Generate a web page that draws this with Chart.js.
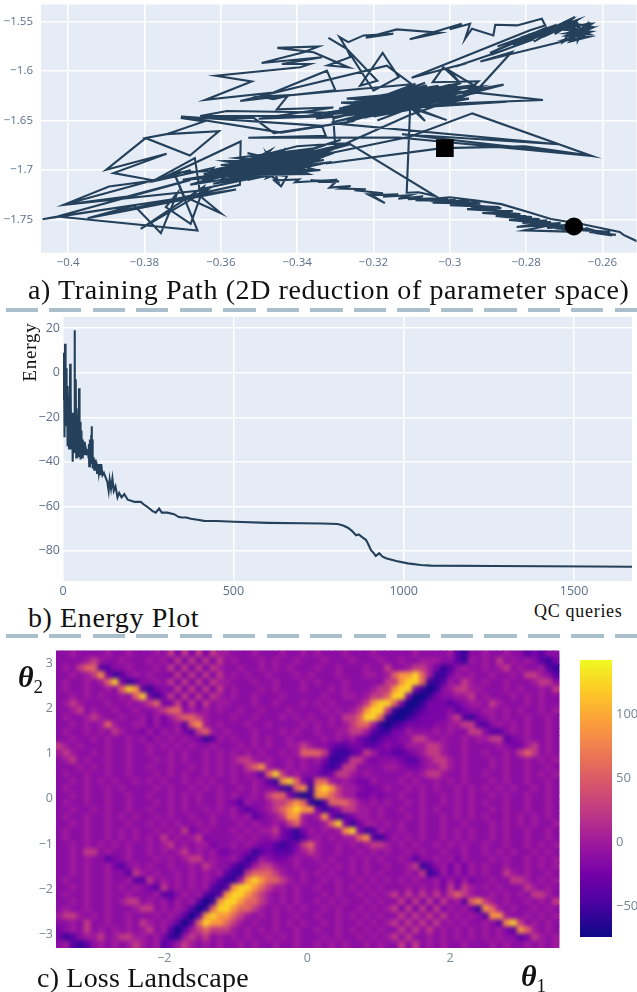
<!DOCTYPE html>
<html>
<head>
<meta charset="utf-8">
<script src="https://cdn.jsdelivr.net/npm/chart.js@4/dist/chart.umd.min.js"></script>
<style>
html, body { margin: 0; padding: 0; background: #fff; overflow: hidden; width: 637px; height: 992px; }
canvas { position: absolute; }
.cap { position: absolute; font-family: "Liberation Serif", serif; color: #111; white-space: nowrap; line-height: 1; }
.dash { position: absolute; left: 6px; width: 631px; height: 4px; background: repeating-linear-gradient(90deg, #a9bfcc 0 32px, transparent 32px 43.5px); }
.theta { font-size: 30px; }
.theta sub { font-size: 19px; font-style: normal; font-weight: normal; vertical-align: -6px; line-height: 0; }
</style>
</head>
<body>
<canvas id="pathChart" style="left:0;top:-8px"></canvas>
<canvas id="energyChart" style="left:0;top:310px"></canvas>
<canvas id="lossChart" style="left:0;top:645px"></canvas>
<canvas id="barChart" style="left:580px;top:650px"></canvas>

<div class="cap" style="left:28px;top:276px;font-size:28px;letter-spacing:.6px">a) Training Path (2D reduction of parameter space)</div>
<div class="dash" style="top:308px"></div>
<div class="cap" style="left:28px;top:604px;font-size:28px;letter-spacing:.6px">b) Energy Plot</div>
<div class="cap" style="left:534px;top:602px;font-size:18px;letter-spacing:.7px">QC queries</div>
<div class="dash" style="top:634px"></div>
<div class="cap" style="left:37px;top:964px;font-size:28px;letter-spacing:.2px">c) Loss Landscape</div>
<div class="cap" style="left:29px;top:352px;font-size:19px;letter-spacing:.8px;transform:translate(-50%,-50%) rotate(-90deg);transform-origin:center">Energy</div>
<div class="cap theta" style="left:18px;top:662px"><b><i>θ</i></b><sub>2</sub></div>
<div class="cap theta" style="left:521px;top:961px"><b><i>θ</i></b><sub>1</sub></div>

<script>
// a) training path
const pathXTicks = [-0.4, -0.38, -0.36, -0.34, -0.32, -0.3, -0.28, -0.26];
const pathYTicks = [-1.55, -1.6, -1.65, -1.7, -1.75];
const startPoint = [-0.3013, -1.678];
const endPoint = [-0.2675, -1.757];
const pathPoints = [
	// wide loops on the right
	[-.3325,-1.6935],[-.302,-1.678],[-.2803,-1.6762],[-.2628,-1.6858],[-.2941,-1.6429],[-.3105,-1.6665],[-.3432,-1.6925],
	[-.3261,-1.674],[-.3038,-1.7264],[-.3082,-1.7225],[-.3113,-1.723],[-.3104,-1.6368],[-.3065,-1.6505],[-.3097,-1.6368],[-.3008,-1.6497],[-.3125,-1.6345],
	[-.3283,-1.6537],[-.2715,-1.674],[-.3125,-1.664],[-.2628,-1.6858],[-.3135,-1.6672],[-.3528,-1.6675],[-.3325,-1.6655],[-.3335,-1.6555],[-.3704,-1.6461],[-.3442,-1.6623],[-.325,-1.6505],
	// left side
	[-.3461,-1.6628],[-.3513,-1.6476],[-.3705,-1.6476],[-.3644,-1.651],[-.374,-1.6638],[-.3797,-1.6678],[-.3681,-1.6854],[-.3605,-1.661],[-.3742,-1.6638],[-.3797,-1.6678],
	[-.39,-1.6998],[-.3742,-1.6837],[-.3881,-1.7032],[-.3775,-1.7106],[-.3668,-1.688],[-.3653,-1.7268],[-.36,-1.7436],[-.3696,-1.7268],[-.3723,-1.7025],[-.355,-1.7],[-.3723,-1.7025],[-.3661,-1.7611],
	[-.4028,-1.747],[-.4067,-1.7497],[-.356,-1.7198],[-.3949,-1.7487],[-.3827,-1.7359],[-.3757,-1.7638],[-.3714,-1.7234],[-.3744,-1.7375],[-.3679,-1.7544],[-.3644,-1.7167],[-.381,-1.7594],[-.3635,-1.72],
	[-.4012,-1.7352],[-.3893,-1.7167],[-.3775,-1.7106],[-.3679,-1.7],[-.4012,-1.7352],[-.3845,-1.7268],[-.3679,-1.71],[-.4028,-1.747],[-.36,-1.7225],[-.3949,-1.7487],[-.355,-1.715],[-.3548,-1.6712],[-.3766,-1.7106],[-.362,-1.698],
	// lower left knot
	[-.365,-1.712],[-.337,-1.684],[-.36,-1.708],[-.341,-1.681],[-.357,-1.692],[-.336,-1.692],[-.358,-1.703],[-.344,-1.684],[-.362,-1.7],[-.339,-1.689],
	[-.355,-1.697],[-.347,-1.68],[-.352,-1.7],[-.335,-1.678],[-.356,-1.688],[-.34,-1.695],[-.36,-1.695],[-.345,-1.69],[-.353,-1.683],[-.336,-1.699],
	[-.351,-1.708],[-.343,-1.678],[-.349,-1.702],[-.333,-1.69],[-.358,-1.697],[-.342,-1.7],[-.35,-1.686],[-.337,-1.704],[-.355,-1.705],[-.346,-1.695],
	[-.354,-1.691],[-.332,-1.685],[-.348,-1.708],[-.344,-1.688],[-.361,-1.705],[-.34,-1.703],[-.352,-1.693],[-.338,-1.683],[-.356,-1.699],[-.344,-1.697],
	[-.349,-1.69],[-.335,-1.695],[-.353,-1.71],[-.341,-1.69],[-.359,-1.691],[-.347,-1.7],[-.351,-1.685],[-.339,-1.692],[-.355,-1.701],[-.343,-1.706],
	[-.348,-1.683],[-.345,-1.711],[-.35,-1.697],[-.334,-1.683],[-.357,-1.708],[-.338,-1.698],[-.347,-1.705],[-.336,-1.679],[-.354,-1.697],[-.342,-1.684],
	[-.368,-1.715],[-.34,-1.698],[-.3645,-1.704],[-.335,-1.688],[-.37,-1.71],[-.344,-1.702],[-.366,-1.72],[-.349,-1.706],[-.362,-1.714],[-.338,-1.694],
	[-.358,-1.713],[-.342,-1.69],[-.3635,-1.708],[-.346,-1.685],[-.36,-1.701],[-.337,-1.679],[-.356,-1.71],[-.333,-1.68],[-.352,-1.688],[-.34,-1.676],
	[-.326,-1.6725],[-.35,-1.694],[-.33,-1.676],[-.352,-1.698],[-.3286,-1.6695],[-.352,-1.7],[-.3339,-1.7],[-.36,-1.71],[-.331,-1.692],[-.345,-1.6985],[-.33,-1.678],
	// middle knot
	[-.3305,-1.648],[-.298,-1.616],[-.325,-1.644],[-.296,-1.625],[-.329,-1.638],[-.303,-1.622],[-.322,-1.637],[-.3,-1.614],[-.327,-1.65],[-.306,-1.629],
	[-.32,-1.628],[-.2935,-1.62],[-.324,-1.64],[-.31,-1.625],[-.328,-1.644],[-.308,-1.617],[-.318,-1.642],[-.3005,-1.624],[-.326,-1.635],[-.305,-1.618],
	[-.322,-1.647],[-.312,-1.631],[-.33,-1.641],[-.298,-1.622],[-.316,-1.634],[-.303,-1.615],[-.323,-1.628],[-.295,-1.615],[-.319,-1.65],[-.308,-1.634],
	[-.325,-1.631],[-.302,-1.627],[-.32,-1.64],[-.31,-1.62],[-.317,-1.627],[-.3,-1.631],[-.324,-1.648],[-.3065,-1.623],[-.328,-1.637],[-.297,-1.612],
	[-.315,-1.64],[-.304,-1.633],[-.322,-1.632],[-.309,-1.613],[-.326,-1.642],[-.2985,-1.619],[-.314,-1.629],[-.301,-1.62],[-.319,-1.636],[-.306,-1.615],
	[-.335,-1.648],[-.312,-1.639],[-.333,-1.644],[-.3,-1.626],[-.331,-1.652],[-.314,-1.636],[-.3285,-1.632],[-.295,-1.628],[-.32,-1.646],[-.305,-1.625],
	[-.34,-1.647],[-.31,-1.63],[-.327,-1.628],[-.292,-1.616],[-.316,-1.644],[-.302,-1.618],[-.323,-1.635],[-.3065,-1.612],[-.318,-1.631],[-.298,-1.627],
	[-.321,-1.644],[-.293,-1.622],[-.2756,-1.6294],[-.31,-1.6345],[-.285,-1.631],[-.325,-1.641],[-.2859,-1.6139],[-.2965,-1.6245],[-.2925,-1.6105],
	[-.3045,-1.6115],[-.3017,-1.5963],[-.2975,-1.6115],[-.3,-1.6],[-.2935,-1.615],[-.3287,-1.6422],[-.3584,-1.6405],[-.3654,-1.6456],[-.3305,-1.6456],[-.3501,-1.6483],
	[-.3305,-1.637],[-.3453,-1.6388],[-.3423,-1.6246],[-.3497,-1.6259],[-.3462,-1.6286],[-.3418,-1.6246],[-.31,-1.6135],
	// upper wisps
	[-.3165,-1.5947],[-.3549,-1.6303],[-.33,-1.6195],[-.3322,-1.5998],[-.3462,-1.6219],[-.3641,-1.6293],[-.3519,-1.6107],[-.3613,-1.6049],[-.3392,-1.5964],[-.3366,-1.593],[-.344,-1.5931],[-.3335,-1.5863],
	[-.3493,-1.592],[-.3383,-1.5812],[-.3344,-1.5754],[-.3452,-1.5768],[-.3357,-1.5812],[-.3265,-1.5965],[-.332,-1.5945],[-.326,-1.586],[-.327,-1.5778],[-.319,-1.61],[-.3235,-1.6149],[-.3176,-1.5818],[-.3134,-1.6064],[-.32,-1.62],[-.327,-1.5778],
	[-.3318,-1.5666],[-.327,-1.5778],[-.3289,-1.5659],[-.3266,-1.571],[-.3226,-1.5642],[-.3148,-1.5625],[-.322,-1.5665],[-.3139,-1.5581],[-.3025,-1.5615],[-.3105,-1.568],[-.2969,-1.5524],[-.3,-1.558],
	[-.2947,-1.5524],[-.296,-1.5676],[-.2942,-1.5574],[-.2886,-1.5642],[-.2881,-1.5534],[-.2824,-1.5541],[-.2759,-1.5473],[-.275,-1.5541],[-.279,-1.5591],
	// band up to the top right blob
	[-.31,-1.607],[-.2955,-1.592],[-.2985,-1.5955],[-.285,-1.578],[-.289,-1.5835],[-.278,-1.568],[-.283,-1.575],[-.2725,-1.5585],[-.278,-1.5705],[-.27,-1.5525],
	[-.2765,-1.563],[-.2672,-1.5456],[-.2745,-1.5615],[-.2685,-1.5495],[-.2725,-1.563],[-.2665,-1.5485],[-.283,-1.5705],[-.2745,-1.556],[-.2895,-1.582],[-.277,-1.562],
	[-.2815,-1.5665],[-.272,-1.5535],[-.2875,-1.5755],[-.2755,-1.5585],[-.2835,-1.5735],[-.2705,-1.5555],[-.2795,-1.5635],[-.2685,-1.5525],[-.2755,-1.5655],[-.267,-1.5505],
	[-.2702,-1.5705],[-.2628,-1.5525],[-.269,-1.555],[-.2635,-1.563],[-.2695,-1.562],[-.263,-1.557],[-.2685,-1.5665],[-.264,-1.5525],[-.2705,-1.5585],[-.263,-1.5605],
	[-.2695,-1.568],[-.2645,-1.5665],[-.2665,-1.5525],[-.2665,-1.5695],[-.2645,-1.5545],[-.2685,-1.5705],[-.2635,-1.5655],[-.2695,-1.5645],[-.2628,-1.5555],[-.268,-1.552],[-.2675,-1.5675],
	[-.292,-1.5905],[-.2838,-1.581],[-.2934,-1.6216],[-.3105,-1.6445],[-.33,-1.678],[-.342,-1.702],
	// long tail down to the right edge
	[-.3442,-1.7165],[-.346,-1.7105],[-.3395,-1.7095],[-.3405,-1.7125],[-.3295,-1.7098],[-.3345,-1.712],[-.329,-1.7115],[-.3365,-1.7105],[-.33,-1.7125],[-.3315,-1.7178],
	[-.326,-1.7162],[-.3285,-1.7188],[-.322,-1.7195],[-.325,-1.7205],[-.3175,-1.7235],[-.3215,-1.7245],[-.317,-1.7334],[-.3205,-1.7255],[-.3135,-1.7245],[-.3175,-1.727],
	[-.3105,-1.7255],[-.3135,-1.729],[-.307,-1.7265],[-.311,-1.7295],[-.3035,-1.7285],[-.308,-1.731],[-.3005,-1.7285],[-.305,-1.7315],[-.2985,-1.73],[-.3025,-1.7325],
	[-.295,-1.7305],[-.2995,-1.733],[-.2925,-1.7325],[-.2975,-1.7345],[-.289,-1.7375],[-.2945,-1.7375],[-.2865,-1.7385],[-.2905,-1.7405],[-.2835,-1.7415],[-.2885,-1.7425],
	[-.2815,-1.7445],[-.2865,-1.7455],[-.2785,-1.7475],[-.2845,-1.748],[-.2765,-1.7495],[-.2815,-1.7515],[-.2745,-1.751],[-.281,-1.7535],[-.2735,-1.7525],[-.2775,-1.755],
	[-.271,-1.7535],[-.2755,-1.7565],[-.2695,-1.7555],[-.2745,-1.7585],[-.2685,-1.7575],[-.2715,-1.759],[-.2655,-1.7565],[-.27,-1.7595],[-.2625,-1.7605],[-.267,-1.7605],
	[-.258,-1.7625],[-.2635,-1.7625],[-.2565,-1.7655],[-.262,-1.7635],[-.2575,-1.766],
	[-.2645,-1.7585],[-.2605,-1.7635],[-.268,-1.7565],[-.2735,-1.7575],[-.2665,-1.7625],[-.2805,-1.761],[-.2735,-1.7555],[-.2825,-1.7575],[-.276,-1.7535],[-.2845,-1.7505],
	[-.2775,-1.7505],[-.288,-1.7465],[-.28,-1.7465],[-.2915,-1.7435],[-.2835,-1.7425],[-.2955,-1.7395],[-.287,-1.7375],[-.3,-1.7355],[-.292,-1.734],[-.3045,-1.733],
	[-.2965,-1.7315],[-.309,-1.7305],[-.3,-1.7275],[-.2925,-1.7312],[-.2865,-1.7345],[-.2795,-1.7425],[-.2735,-1.7495],[-.2655,-1.7545],[-.2605,-1.7585],[-.2555,-1.7625],
	[-.2545,-1.7655],[-.2505,-1.7728]
];

// b) energy curve: [query, energy]
const energyXTicks = [0, 500, 1000, 1500];
const energyYTicks = [20, 0, -20, -40, -60, -80];
const energyPoints = [
	[0,4],[1,9],[2,-12],[3,8],[4,-29],[5,-20],[6,13],[7,-24],[8,-4],[9,-18],[10,2],[11,-22],[12,-8],[13,-33],[14,-6],[15,-26],[16,-10],[17,-32],[18,-34],[19,-12],[20,-28],[21,4],[22,-30],[23,-8],[24,-34],[25,-18],[26,-34],[27,-20],[28,-36],[29,-40],[30,-22],[31,-36],[32,-18],[33,-34],[34,19],[35,-36],[36,-3],[37,-30],[38,-8],[39,-38],
	[40,-22],[41,-36],[42,-26],[43,-38],[44,-24],[45,-16],[46,-38],[47,-7],[48,-30],[49,-38],[50,-22],[51,-39],[52,-24],[53,-38],[54,-26],[56,-38],[58,-30],[60,-37],[62,-31],[64,-37],[67,-34],[70,-36],[73,-35],[75,-38],[76,-32],[77,-42],[79,-30],[81,-41],[83,-28],[84,-24],[85,-40],[86,-30],[87,-43],
	[90,-38],[92,-44],[94,-39],[96,-44],[98,-40],[100,-45],[102,-41],[105,-45],[108,-41],[110,-46],[112,-41],[116,-46],[120,-45],[125,-47],[130,-49],[134,-53],[137,-48],[141,-52],[145,-47.5],[149,-53],[154,-51],[160,-56],[165,-54],[172,-56],[180,-54.5],[190,-57],[200,-57.5],[210,-58],[228,-58],
	[240,-59.5],[250,-60.5],[262,-62],[272,-62.8],[282,-61],[290,-62.8],[306,-62.8],[326,-63.5],[340,-64.8],[350,-65],[362,-65],[375,-65.6],[395,-66],[414,-66.5],[450,-66.6],[503,-66.9],[601,-67.4],[700,-67.6],[760,-67.7],
	[806,-67.9],[822,-68.6],[836,-69.6],[848,-71],[860,-73],[868,-72.6],[880,-74],[889,-75],[896,-77],[904,-79.7],[912,-81],[918,-82.3],[928,-81],[938,-82.6],[948,-83.3],[978,-84.5],[1012,-85.6],[1050,-86.3],[1080,-86.6],[1265,-86.8],[1558,-87],[1670,-87.1]
];

// c) loss landscape, one string per row from the top, digit = index into heatLevels
const heatXTicks = [-2, 0, 2];
const heatYTicks = [3, 2, 1, 0, -1, -2, -3];
const heatLevels = [-72, -55, -38, -22, -12, 0, 25, 55, 88, 122];
const heatRows = [
	"445444454454 445463636365 544454445445 454445444544 444544445214 454454423244",
	"444456544544 454536363636 454445454454 445444544454 454455544215 454645454213",
	"454677224454 445463636365 445445454544 454454445446 445665312454 454564544521",
	"445456831245 454436363636 454544544454 544454445545 788975113545 445445466542",
	"454454579312 445463636365 544454454445 454445444446 689971125465 454454445664",
	"454454454798 213436363636 454445454445 444545444566 899310145665 544454544546",
	"445454544547 931363636365 454454445444 445445545667 993001344556 454445454544",
	"456544454454 567336363645 544454454445 454544456899 730013332345 546544454544",
	"445645445445 445677454545 445445444544 445454568996 100123334234 455454544545",
	"454456544544 535356776544 454454445454 544546679971 001233335621 345454454454",
	"445454575445 535345278545 444544544445 454545677510 123333445566 224545454454",
	"454454546544 353545326754 544454445454 454455665211 335444545446 642245454454",
	"445445454454 535454543125 454454544544 445454532123 344665454454 556623454454",
	"654544454454 454545454454 445454544556 544322332234 335556654454 444543356454",
	"565445454454 454454544545 454545445457 776211236533 223456654454 454454676454",
	"456454454454 445454544545 456654544545 453112664344 432245665454 445454454545",
	"444545454454 454454454545 454678544545 442126644445 543345565454 445454454454",
	"454454454454 445454544545 454542796454 432366545444 445456654454 454454454545",
	"445454545445 454544545454 454454218973 277545433544 454544545454 445454454454",
	"454454454544 445454454545 445454431178 189865543345 445454544545 454545445454",
	"445454454454 454454545445 454454677310 188765533434 454454454545 445454454454",
	"454454454454 445454545445 432544566787 102777654545 445454454545 454454454454",
	"445445454454 454454544545 453234567898 831246655454 454454544545 445454454454",
	"454454454545 445454454454 454523456885 458312355454 445454454545 454454545454",
	"445454454454 454545445454 445454454675 445793135545 454454454454 445454545445",
	"454454454545 445454634544 454545563213 545458931254 454454454545 445454454454",
	"454454454545 454645456344 445454453212 454545578213 545454454545 445454454454",
	"445454545454 454564545534 454543321236 754454545665 454544545454 454454454545",
	"445466454454 454545645453 344312322245 654454454545 445454454454 454545445454",
	"445454423454 445454566454 453125433454 454544545454 454244545354 445454454545",
	"445454453245 454454454654 421256654454 445454545445 445612453535 454454454545",
	"445454454426 545445454545 211677765445 454544545454 445461253535 454465454454",
	"454454454452 264545454542 115898776545 445454454545 454544535353 445446654545",
	"445454454545 432645454521 289987655454 454454545454 445454536365 454544465454",
	"454454454454 445224545212 899876545454 445454454545 646464646765 445454546654",
	"445454454566 454535452018 998776545454 454545445454 463636364527 865454454546",
	"454454454445 664545420179 987765454545 445454454545 636363635453 187545445454",
	"566545454454 445454202898 876545454454 454454545454 464646464545 428854454545",
	"445464454454 654542027988 765454454545 445454454545 646464645454 454289645454",
	"345464545454 564520256766 654545454454 454454545454 464646454545 454532875454",
	"312455645665 545311565645 454544545454 445454454545 646445454545 454544236545",
	"452124545456 545235654545 445454454454 454545445454 464645454454 445454454545"
];

// colour bar
const barRange = [-74, 142];
const barTicks = [100, 50, 0, -50];
const plasma = ['#0d0887', '#46039f', '#7201a8', '#9c179e', '#bd3786', '#d8576b', '#ed7953', '#fb9f3a', '#fdca26', '#f0f921'];

const lineColor = '#24405a';
const tickColor = '#5d6f8c';
const heatTickColor = '#76858f';

function minus(v) {
	return String(v).replace('-', '\u2212');
}

function fixedTicks(values) {
	return function (scale) {
		scale.ticks = values.map(function (v) { return { value: v }; });
	};
}

// fixed axis size and no extra margin for the first and last label
function fitHeight(h) {
	return function (s) {
		s.height = h;
		s.paddingLeft = s.paddingRight = s.paddingTop = s.paddingBottom = 0;
	};
}
function fitWidth(w) {
	return function (s) {
		s.width = w;
		s.paddingLeft = s.paddingRight = s.paddingTop = s.paddingBottom = 0;
	};
}

// plot background colour, under the grid
const plotBg = {
	id: 'plotBg',
	beforeDraw: function (chart) {
		let a = chart.chartArea;
		chart.ctx.fillStyle = '#e5ecf6';
		chart.ctx.fillRect(a.left, a.top, a.right - a.left, a.bottom - a.top);
	}
};

function axis(min, max, ticks, fontSize, padding, fit, color) {
	return {
		type: 'linear',
		min: min,
		max: max,
		afterBuildTicks: fixedTicks(ticks),
		afterFit: fit,
		border: { display: false },
		grid: { color: '#ffffff', lineWidth: 1.5, drawTicks: false },
		ticks: {
			autoSkip: false,
			maxRotation: 0,
			padding: padding,
			color: color || tickColor,
			font: { family: '"Open Sans"', size: fontSize },
			callback: function (v) { return minus(v); }
		}
	};
}

function sizeCanvas(id, w, h) {
	let c = document.getElementById(id);
	c.width = w;
	c.height = h;
	c.style.width = w + 'px';
	c.style.height = h + 'px';
	return c;
}

Chart.defaults.animation = false;
Chart.defaults.responsive = false;
Chart.defaults.plugins.legend.display = false;
Chart.defaults.plugins.tooltip.enabled = false;

//Training path

// canvas is bigger than its slot: the first y label and last x label keep a margin
new Chart(sizeCanvas('pathChart', 649, 283), {
	type: 'scatter',
	data: {
		datasets: [
			{
				data: [{ x: startPoint[0], y: startPoint[1] }],
				pointStyle: 'rect',
				pointRadius: 12.5,
				backgroundColor: '#000',
				borderWidth: 0
			},
			{
				data: [{ x: endPoint[0], y: endPoint[1] }],
				pointStyle: 'circle',
				pointRadius: 9,
				backgroundColor: '#000',
				borderWidth: 0
			},
			{
				data: pathPoints.map(function (p) { return { x: p[0], y: p[1] }; }),
				showLine: true,
				pointRadius: 0,
				borderColor: lineColor,
				borderWidth: 2.1
			}
		]
	},
	options: {
		layout: { padding: { top: 6 } },
		scales: {
			x: axis(-0.4071, -0.2511, pathXTicks, 11.5, 3, fitHeight(22.3)),
			y: axis(-1.7835, -1.533, pathYTicks, 11.5, 8, fitWidth(41))
		}
	},
	plugins: [plotBg]
});

//Energy plot

new Chart(sizeCanvas('energyChart', 637, 290), {
	type: 'scatter',
	data: {
		datasets: [{
			data: energyPoints.map(function (p) { return { x: p[0], y: p[1] }; }),
			showLine: true,
			pointRadius: 0,
			borderColor: lineColor,
			borderWidth: 2.1
		}]
	},
	options: {
		layout: { padding: { top: 7, right: 5 } },
		scales: {
			x: axis(0, 1670, energyXTicks, 12.5, 3, fitHeight(19)),
			y: axis(-93.5, 25, energyYTicks, 12.5, 3, fitWidth(63))
		}
	},
	plugins: [plotBg]
});

//Loss landscape

function plasmaColor(value) {
	let t = (value - barRange[0]) / (barRange[1] - barRange[0]) * (plasma.length - 1);
	let i = Math.min(plasma.length - 2, Math.max(0, Math.floor(t)));
	let f = Math.max(0, Math.min(1, t - i));
	let a = plasma[i], b = plasma[i + 1];
	let rgb = [1, 3, 5].map(function (k) {
		let c1 = parseInt(a.substr(k, 2), 16);
		let c2 = parseInt(b.substr(k, 2), 16);
		return Math.round(c1 + (c2 - c1) * f);
	});
	return 'rgb(' + rgb.join(',') + ')';
}

const heatXRange = [-3.517, 3.531];
const heatYRange = [-3.3, 3.28];
const heatCells = [];
heatRows.forEach(function (row, j) {
	let digits = row.replace(/ /g, '');
	for (let i = 0; i < digits.length; i++) {
		heatCells.push({
			x: heatXRange[0] + (i + 0.5) * (heatXRange[1] - heatXRange[0]) / digits.length,
			y: heatYRange[1] - (j + 0.5) * (heatYRange[1] - heatYRange[0]) / heatRows.length,
			v: heatLevels[Number(digits[i])]
		});
	}
});

// the reference image is soft, so the finished cells get a small blur
const softCells = {
	id: 'softCells',
	afterDatasetsDraw: function (chart) {
		let a = chart.chartArea;
		let ctx = chart.ctx;
		ctx.save();
		ctx.beginPath();
		ctx.rect(a.left, a.top, a.right - a.left, a.bottom - a.top);
		ctx.clip();
		ctx.filter = 'blur(2px)';
		ctx.drawImage(chart.canvas, 0, 0, chart.width, chart.height);
		ctx.restore();
	}
};

new Chart(sizeCanvas('lossChart', 565, 325), {
	type: 'scatter',
	data: {
		datasets: [{
			data: heatCells,
			pointStyle: 'rect',
			pointRadius: 5.6,
			borderWidth: 0,
			backgroundColor: function (ctx) { return ctx.raw ? plasmaColor(ctx.raw.v) : '#000'; }
		}]
	},
	options: {
		layout: { padding: { top: 5 } },
		scales: {
			x: axis(heatXRange[0], heatXRange[1], heatXTicks, 12.5, 3, fitHeight(22), heatTickColor),
			y: axis(heatYRange[0], heatYRange[1], heatYTicks, 12.5, 3, fitWidth(56), heatTickColor)
		}
	},
	plugins: [softCells]
});

//Colour bar

new Chart(sizeCanvas('barChart', 70, 300), {
	type: 'bar',
	data: {
		labels: ['loss'],
		datasets: [{
			data: [barRange],
			barPercentage: 1,
			categoryPercentage: 1,
			borderWidth: 0,
			backgroundColor: function (ctx) {
				let a = ctx.chart.chartArea;
				if (!a) return plasma[0];
				let g = ctx.chart.ctx.createLinearGradient(0, a.bottom, 0, a.top);
				plasma.forEach(function (c, i) { g.addColorStop(i / (plasma.length - 1), c); });
				return g;
			}
		}]
	},
	options: {
		layout: { padding: { top: 10, bottom: 13 } },
		scales: {
			x: { display: false },
			y: {
				position: 'right',
				min: barRange[0],
				max: barRange[1],
				afterBuildTicks: fixedTicks(barTicks),
				afterFit: fitWidth(38),
				border: { display: false },
				grid: { display: false, drawTicks: false },
				ticks: {
					autoSkip: false,
					padding: 4,
					color: heatTickColor,
					font: { family: '"Open Sans"', size: 13 },
					callback: function (v) { return minus(v); }
				}
			}
		}
	}
});
</script>
</body>
</html>
